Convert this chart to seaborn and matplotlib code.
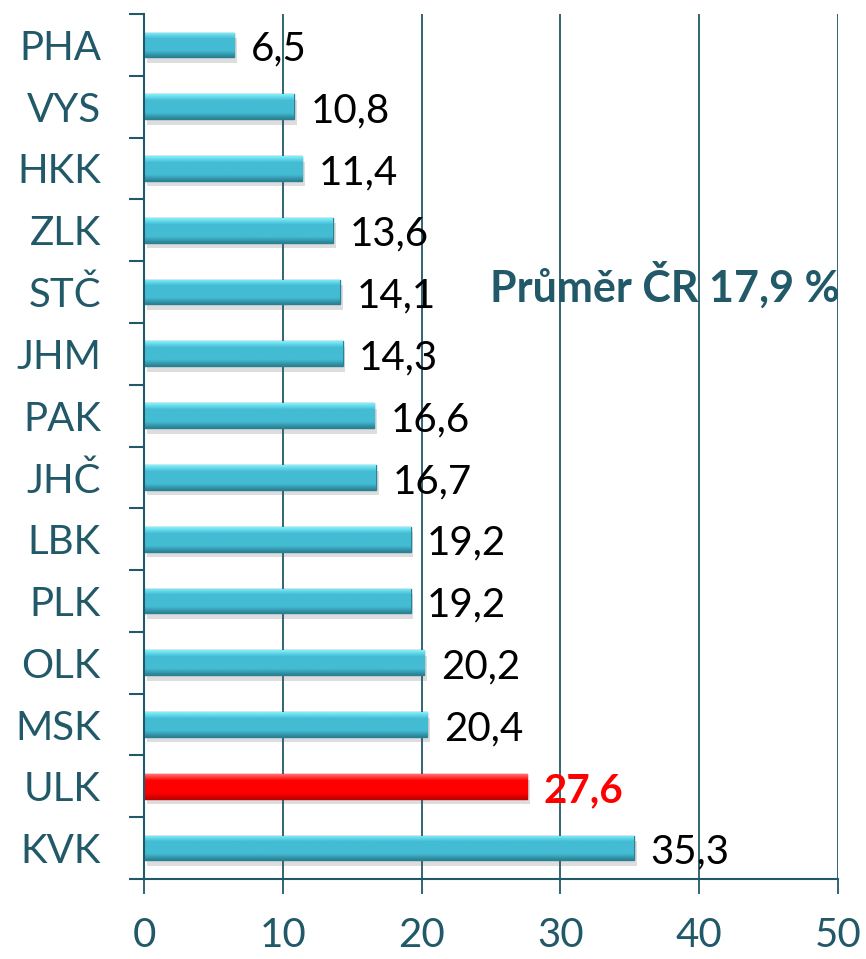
import numpy as np
import pandas as pd
import matplotlib
matplotlib.use("Agg")
import matplotlib.pyplot as plt
import matplotlib.patheffects as pe
import seaborn as sns

regions = ["PHA", "VYS", "HKK", "ZLK", "STČ", "JHM", "PAK", "JHČ",
           "LBK", "PLK", "OLK", "MSK", "ULK", "KVK"]
values = [6.5, 10.8, 11.4, 13.6, 14.1, 14.3, 16.6, 16.7,
          19.2, 19.2, 20.2, 20.4, 27.6, 35.3]
highlight = "ULK"
average_text = "Průměr ČR 17,9 %"

TEAL = "#215968"
BLUE_TOP, BLUE_MID, BLUE_BOT = "#80f0fc", "#43bcd4", "#2b8194"
RED_TOP, RED_MID, RED_BOT = "#ff7070", "#ff0000", "#c20000"

sns.set_theme(style="white")
plt.rcParams["font.family"] = ["Lato", "DejaVu Sans"]

df = pd.DataFrame({"region": regions, "value": values})
palette = {r: (RED_MID if r == highlight else BLUE_MID) for r in regions}

fig = plt.figure(figsize=(8.66, 9.59), dpi=100)
ax = fig.add_axes([0.1663, 0.0834, 0.8014, 0.902])

sns.barplot(data=df, y="region", x="value", hue="region", palette=palette,
            orient="h", width=0.4, legend=False, ax=ax, saturation=1,
            edgecolor=BLUE_BOT, linewidth=1)

# glossy gradient over each bar + soft shadow
for patch, reg in zip(ax.patches, regions):
    x0, y0 = patch.get_x(), patch.get_y()
    w, h = patch.get_width(), patch.get_height()
    if reg == highlight:
        cols = [RED_TOP, RED_MID, RED_MID, RED_MID, RED_BOT]
        patch.set_edgecolor(RED_BOT)
    else:
        cols = [BLUE_TOP, BLUE_MID, BLUE_MID, BLUE_MID, BLUE_BOT]
    cmap = matplotlib.colors.LinearSegmentedColormap.from_list("g", cols)
    grad = np.linspace(0, 1, 64).reshape(-1, 1)
    im = ax.imshow(grad, cmap=cmap, aspect="auto", origin="upper",
                   extent=(x0, x0 + w, y0 + h, y0), zorder=patch.get_zorder() + 0.1)
    im.set_clip_path(patch)
    patch.set_path_effects([pe.SimplePatchShadow(offset=(2, -4), alpha=0.2,
                                                 shadow_rgbFace="#555555"),
                            pe.Normal()])

for i, (reg, v) in enumerate(zip(regions, values)):
    lbl = f"{v:.1f}".replace(".", ",")
    if reg == highlight:
        ax.annotate(lbl, (v, i), xytext=(12, -3), textcoords="offset points",
                    ha="left", va="center", fontsize=29, color="red",
                    fontweight="bold")
    else:
        ax.annotate(lbl, (v, i), xytext=(12, -3), textcoords="offset points",
                    ha="left", va="center", fontsize=29, color="black")

ax.text(37.5, 3.88, average_text, ha="center", va="center", fontsize=31,
        fontweight="bold", color=TEAL)

ax.set_xlim(0, 50)
ax.set_ylim(13.5, -0.5)
ax.set_xticks([0, 10, 20, 30, 40, 50])
ax.xaxis.grid(True, color=TEAL, linewidth=1.3)
ax.set_axisbelow(True)
ax.set_xlabel("")
ax.set_ylabel("")

ax.set_yticks(np.arange(-0.5, 14, 1), minor=True)
ax.tick_params(axis="y", which="major", length=0, pad=31, labelsize=29,
               labelcolor=TEAL)
ax.tick_params(axis="y", which="minor", length=11, width=1.5, color=TEAL,
               direction="out", left=True)
ax.tick_params(axis="x", which="major", length=11, width=1.3, color=TEAL,
               direction="out", bottom=True, pad=16, labelsize=29,
               labelcolor=TEAL)

for side in ["top", "right"]:
    ax.spines[side].set_visible(False)
for side in ["left", "bottom"]:
    ax.spines[side].set_color(TEAL)
    ax.spines[side].set_linewidth(1.5)

fig.savefig("out.png", dpi=100)
